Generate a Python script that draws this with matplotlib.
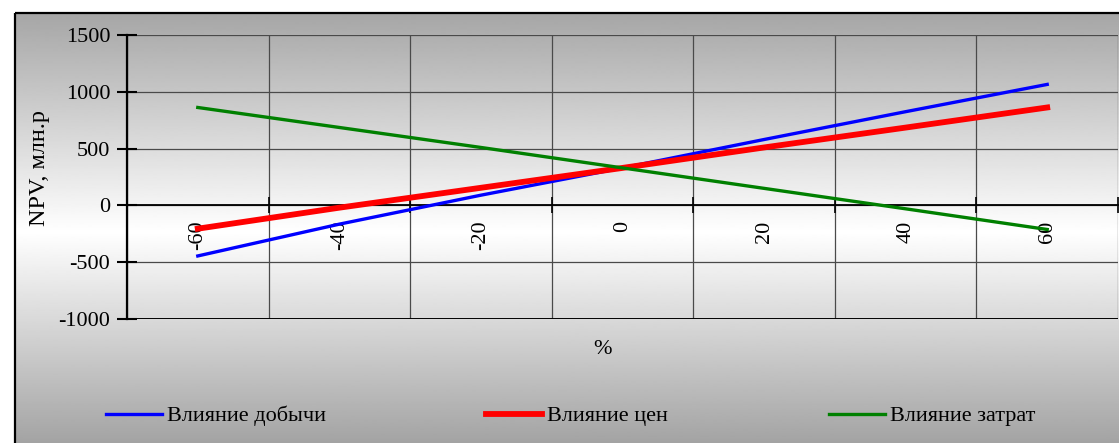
import numpy as np
import matplotlib.pyplot as plt
from matplotlib.patches import Rectangle

plt.rcParams['font.family'] = ['Liberation Serif', 'DejaVu Serif']
plt.rcParams['axes.unicode_minus'] = False

# --------------------------------------------------------------------
# Data
# --------------------------------------------------------------------

pct = [-60, -40, -20, 0, 20, 40, 60]
pct_labels = ["-60", "-40", "-20", "0", "20", "40", "60"]

npv_output = [-445, -165, 90, 330, 580, 825, 1065]   # Влияние добычи
npv_price = [-205, -20, 155, 330, 510, 685, 862]     # Влияние цен
npv_cost = [862, 686, 510, 330, 150, -30, -212]      # Влияние затрат

y_ticks = [-1000, -500, 0, 500, 1000, 1500]

W, H = 1119, 443
FS = 16

fig = plt.figure(figsize=(W / 100, H / 100), dpi=100)

# --------------------------------------------------------------------
# Chart area background: grey -> white -> grey vertical gradient
# --------------------------------------------------------------------

bg = fig.add_axes([0, 0, 1, 1], zorder=-10)
bg.set_axis_off()
bg.set_xlim(0, W)
bg.set_ylim(H, 0)

rows = np.arange(13, H + 1)
shade = np.interp(rows, [13, 232, H], [0.65, 1.0, 0.64])
bg.imshow(shade[:, None], cmap="gray", vmin=0, vmax=1, aspect="auto",
          extent=[15, W, H, 13], interpolation="bilinear")
bg.add_patch(Rectangle((15, 13), W, 500, fill=False, edgecolor="black", lw=1.6))

# --------------------------------------------------------------------
# Plot
# --------------------------------------------------------------------

ax = fig.add_axes([127 / W, (H - 319) / H, 991 / W, 284 / H])
ax.patch.set_alpha(0)

# spine position first: moving it resets the tick settings
ax.spines["bottom"].set_position(("data", 0))
ax.spines["bottom"].set_linewidth(1.3)
ax.spines["left"].set_linewidth(1.6)
ax.spines["top"].set_visible(False)
ax.spines["right"].set_visible(False)

l1, = ax.plot(pct, npv_output, color="#0000ff", lw=2.4, zorder=4,
              label="Влияние добычи")
l2, = ax.plot(pct, npv_price, color="#ff0000", lw=4.2, zorder=4,
              label="Влияние цен")
l3, = ax.plot(pct, npv_cost, color="#008000", lw=2.4, zorder=4,
              label="Влияние затрат")

ax.set_xlim(-70, 70)
ax.set_ylim(-1000, 1500)

ax.set_xticks(np.arange(-70, 71, 20))
ax.set_xticklabels([])
ax.set_xticks(pct, minor=True)
ax.set_xticklabels(pct_labels, minor=True, rotation=90, fontsize=FS)
ax.tick_params(axis="x", which="major", direction="inout", length=11,
               width=1.2, color="black")
ax.tick_params(axis="x", which="minor", length=0, pad=11)

ax.set_yticks(y_ticks)
ax.set_yticklabels([str(v) for v in y_ticks], fontsize=FS)
ax.tick_params(axis="y", direction="inout", length=14, width=1.5, pad=5)

ax.grid(True, which="major", color="#4a4a4a", lw=0.9)
ax.axhline(-1000, color="black", lw=1.4, zorder=3)

fig.text(40 / W, 1 - 168 / H, "NPV, млн.р", rotation=90, ha="center",
         va="center", fontsize=17.5)
fig.text(603 / W, 1 - 349 / H, "%", ha="center", va="center", fontsize=FS)

# --------------------------------------------------------------------
# Legend entries
# --------------------------------------------------------------------

for handle, x0 in [(l1, 106), (l2, 486), (l3, 829)]:
    fig.legend(handles=[handle], loc="center left",
               bbox_to_anchor=(x0 / W, 1 - 416 / H), frameon=False,
               borderpad=0, borderaxespad=0, handlelength=2.5,
               handletextpad=0.25, fontsize=FS)

fig.savefig("out.png", dpi=100)
